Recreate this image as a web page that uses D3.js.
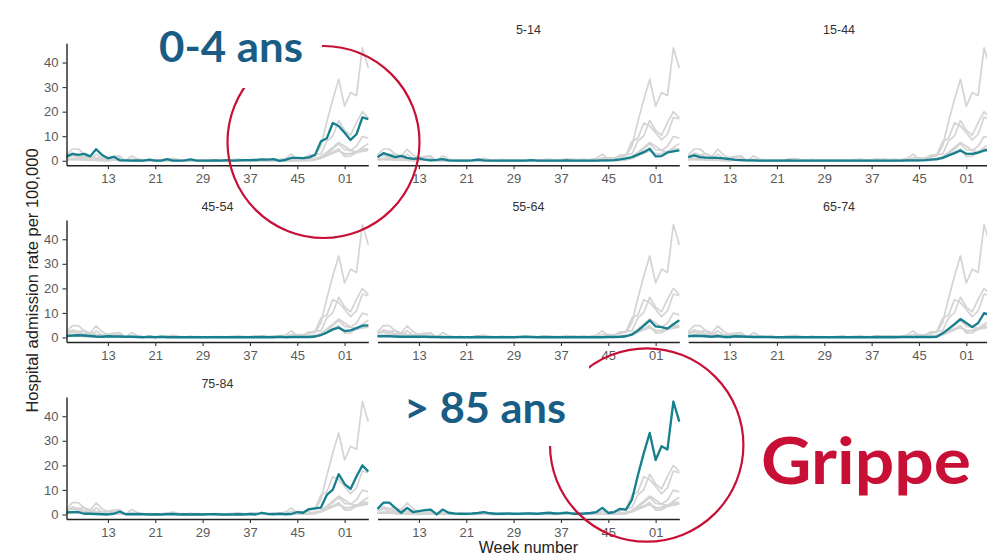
<!DOCTYPE html>
<html>
<head>
<meta charset="utf-8">
<script src="https://cdn.jsdelivr.net/npm/d3@7"></script>
<style>
  html, body { margin: 0; padding: 0; background: #fff; overflow: hidden; }
  svg { display: block; }
</style>
</head>
<body>
<svg id="chart" width="987" height="556"></svg>
<script>
// ISO week numbers covered by the season (week 6 to week 5 of the next year)
const weeks = ["06","07","08","09","10","11","12","13","14","15","16","17","18","19","20",
  "21","22","23","24","25","26","27","28","29","30","31","32","33","34","35","36","37","38",
  "39","40","41","42","43","44","45","46","47","48","49","50","51","52","01","02","03","04","05"];

const xTickLabels = ["13", "21", "29", "37", "45", "01"];
const yTickValues = [0, 10, 20, 30, 40];

const ageGroups = ["0-4", "5-14", "15-44", "45-54", "55-64", "65-74", "75-84", "85+"];

// Weekly influenza hospital admission rate per 100,000, by age group
const rate0to4 = [1.7,2.8,2.4,2.8,1.8,4.7,2.4,1.0,1.6,0.2,
  0.2,0.1,0.2,0.1,0.5,0.1,0.1,0.7,0.1,0.1,
  0.2,0.6,0.1,0.1,0.1,0.2,0.1,0.3,0.1,0.2,
  0.3,0.3,0.3,0.6,0.5,0.7,0.0,0.4,1.2,1.2,
  1.1,1.4,2.4,7.9,9.2,15.4,14.2,11.4,8.5,10.8,
  17.7,17.0];
const rate5to14 = [1.5,3.1,2.3,1.5,2.0,1.2,0.8,1.0,0.5,0.2,
  0.4,0.7,0.2,0.1,0.1,0.1,0.2,0.5,0.2,0.1,
  0.1,0.1,0.1,0.1,0.1,0.1,0.3,0.1,0.1,0.1,
  0.1,0.1,0.2,0.1,0.1,0.1,0.1,0.1,0.2,0.2,
  0.3,0.6,1.0,1.5,2.5,3.5,4.9,1.8,1.9,3.4,
  3.8,4.2];
const rate15to44 = [1.5,2.2,1.5,1.3,1.2,1.2,1.0,0.7,0.4,0.3,
  0.2,0.2,0.1,0.1,0.1,0.1,0.1,0.2,0.1,0.1,
  0.1,0.1,0.1,0.1,0.1,0.1,0.1,0.1,0.1,0.1,
  0.1,0.1,0.1,0.1,0.1,0.1,0.1,0.2,0.2,0.2,
  0.3,0.5,0.7,1.2,2.2,3.1,4.2,2.9,2.8,3.3,
  4.2,4.5];
const rate45to54 = [0.6,0.8,0.9,0.8,0.6,0.4,0.3,0.5,0.4,0.4,
  0.3,0.3,0.2,0.1,0.3,0.1,0.3,0.1,0.1,0.1,
  0.1,0.1,0.1,0.1,0.1,0.1,0.1,0.1,0.1,0.1,
  0.1,0.1,0.1,0.2,0.1,0.1,0.3,0.1,0.2,0.2,
  0.2,0.2,0.4,1.0,2.0,3.3,4.0,2.6,2.9,3.8,
  4.8,4.9];
const rate55to64 = [0.5,0.5,0.5,0.4,0.3,0.3,0.3,0.3,0.3,0.2,
  0.2,0.1,0.1,0.1,0.1,0.1,0.1,0.2,0.1,0.1,
  0.1,0.1,0.1,0.1,0.2,0.3,0.2,0.1,0.2,0.1,
  0.1,0.1,0.1,0.1,0.1,0.1,0.1,0.1,0.1,0.2,
  0.2,0.3,0.5,1.2,2.8,4.8,7.0,4.5,4.2,3.6,
  5.4,7.0];
const rate65to74 = [0.5,0.7,0.6,0.5,0.3,0.6,0.2,0.2,0.5,0.4,
  0.3,0.2,0.2,0.2,0.2,0.1,0.1,0.1,0.1,0.1,
  0.1,0.1,0.1,0.1,0.1,0.1,0.2,0.1,0.1,0.1,
  0.1,0.1,0.2,0.1,0.2,0.1,0.2,0.2,0.2,0.2,
  0.2,0.2,0.3,1.7,3.5,5.4,7.5,5.9,4.2,5.9,
  9.9,9.2];
const rate75to84 = [0.8,1.0,1.0,0.3,0.3,0.2,0.1,0.0,0.3,1.2,
  0.1,0.1,0.2,0.1,0.0,0.1,0.0,0.1,0.2,0.0,
  0.1,0.0,0.1,0.0,0.1,0.1,0.0,0.0,0.0,0.1,
  0.0,0.2,0.0,0.7,0.2,0.1,0.3,0.1,0.2,1.0,
  0.7,2.2,2.5,2.8,8.0,10.1,16.4,12.4,10.4,15.5,
  20.0,17.5];
const rate85plus = [2.3,4.8,4.8,2.7,0.7,2.7,1.0,1.4,1.8,2.0,
  0.0,2.0,0.7,0.4,0.3,0.3,0.4,0.6,1.0,0.5,
  0.3,0.3,0.4,0.3,0.3,0.4,0.4,0.3,0.5,0.7,
  0.4,0.5,0.8,0.3,0.3,0.4,0.6,1.0,2.7,0.6,
  1.0,2.3,2.0,6.0,16.0,25.0,33.2,22.2,27.8,26.5,
  46.0,37.8];

const series = [rate0to4, rate5to14, rate15to44, rate45to54,
                rate55to64, rate65to74, rate75to84, rate85plus];

// Panels whose strip title is replaced by a large callout
const calloutGroups = ["0-4", "85+"];

// Facet grid geometry
const colX = [66.5, 377.5, 688.2];
const panelW = 301.8;
const rowY = [43.3, 220, 397];
const panelH = 122;

const teal = "#16808f";
const grey = "#d4d4d4";
const red = "#c81037";
const navy = "#195d85";
const tickFont = "Liberation Sans, Arial, sans-serif";

const svg = d3.select("#chart");

const yMax = d3.max(series.flat());
const yPad = yMax * 0.04;

ageGroups.forEach((group, k) => {
  const c = k % 3, r = Math.floor(k / 3);
  const x = d3.scalePoint().domain(weeks).range([colX[c], colX[c] + panelW]).padding(0);
  const y = d3.scaleLinear().domain([-yPad, yMax + yPad]).range([rowY[r] + panelH, rowY[r]]);
  const line = d3.line().x((d, i) => x(weeks[i])).y(d => y(d)).curve(d3.curveLinear);

  const g = svg.append("g").attr("class", "panel");

  // every age group in grey as context
  g.selectAll("path.ctx").data(series).join("path")
    .attr("class", "ctx")
    .attr("d", line)
    .attr("fill", "none")
    .attr("stroke", grey)
    .attr("stroke-width", 1.7)
    .attr("stroke-linejoin", "round");

  // the panel's own age group
  g.append("path").datum(series[k])
    .attr("d", line)
    .attr("fill", "none")
    .attr("stroke", teal)
    .attr("stroke-width", 2.3)
    .attr("stroke-linejoin", "round");

  // x axis on every panel
  const xa = g.append("g")
    .attr("transform", `translate(0,${rowY[r] + panelH})`)
    .call(d3.axisBottom(x).tickValues(xTickLabels).tickSize(4).tickSizeOuter(0).tickPadding(4.5));
  xa.select(".domain").attr("stroke", "#222").attr("stroke-width", 1.4);
  xa.selectAll(".tick line").attr("stroke", "#333").attr("stroke-width", 1.1);
  xa.selectAll(".tick text").attr("fill", "#5a5a5a").style("font", `13px ${tickFont}`);

  // y axis only on the first column
  if (c === 0) {
    const ya = g.append("g")
      .attr("transform", `translate(${colX[c]},0)`)
      .call(d3.axisLeft(y).tickValues(yTickValues).tickSize(4).tickSizeOuter(0).tickPadding(4));
    ya.select(".domain").attr("stroke", "#222").attr("stroke-width", 1.4);
    ya.selectAll(".tick line").attr("stroke", "#333").attr("stroke-width", 1.1);
    ya.selectAll(".tick text").attr("fill", "#5a5a5a").style("font", `13px ${tickFont}`);
  }

  // facet strip title
  if (!calloutGroups.includes(group)) {
    g.append("text")
      .attr("x", colX[c] + panelW / 2)
      .attr("y", rowY[r] - 13)
      .attr("text-anchor", "middle")
      .attr("dominant-baseline", "central")
      .attr("fill", "#333")
      .style("font", `12.5px ${tickFont}`)
      .text(group);
  }
});

// axis titles
svg.append("text")
  .attr("transform", "translate(37.5,280.5) rotate(-90)")
  .attr("text-anchor", "middle")
  .attr("fill", "#222")
  .style("font", `16.5px ${tickFont}`)
  .text("Hospital admission rate per 100,000");

svg.append("text")
  .attr("x", colX[1] + panelW / 2)
  .attr("y", 552.5)
  .attr("text-anchor", "middle")
  .attr("fill", "#222")
  .style("font", `16px ${tickFont}`)
  .text("Week number");

// highlight rings around the youngest and oldest groups' peaks
const rings = [
  { cx: 323.5, cy: 142, r: 96 },
  { cx: 646.7, cy: 445, r: 96.7 }
];
svg.selectAll("circle.ring").data(rings).join("circle")
  .attr("class", "ring")
  .attr("cx", d => d.cx).attr("cy", d => d.cy).attr("r", d => d.r)
  .attr("fill", "none")
  .attr("stroke", red)
  .attr("stroke-width", 2.2);

// callout labels on white boxes
const callouts = [
  { text: "0-4 ans", box: [150, 6, 172, 82], x: 159, y: 62, len: 144 },
  { text: "> 85 ans", box: [395, 364, 194, 82], x: 404, y: 422.5, len: 162 }
];
callouts.forEach(d => {
  svg.append("rect")
    .attr("x", d.box[0]).attr("y", d.box[1])
    .attr("width", d.box[2]).attr("height", d.box[3])
    .attr("fill", "#fff");
  svg.append("text")
    .attr("x", d.x).attr("y", d.y)
    .attr("fill", navy)
    .attr("textLength", d.len)
    .attr("lengthAdjust", "spacingAndGlyphs")
    .style("font", "bold 42px Lato, 'Open Sans', sans-serif")
    .text(d.text);
});

svg.append("text")
  .attr("x", 761).attr("y", 484)
  .attr("fill", red)
  .attr("textLength", 210)
  .attr("lengthAdjust", "spacingAndGlyphs")
  .style("font", "bold 65px Lato, 'Open Sans', sans-serif")
  .text("Grippe");
</script>
</body>
</html>
